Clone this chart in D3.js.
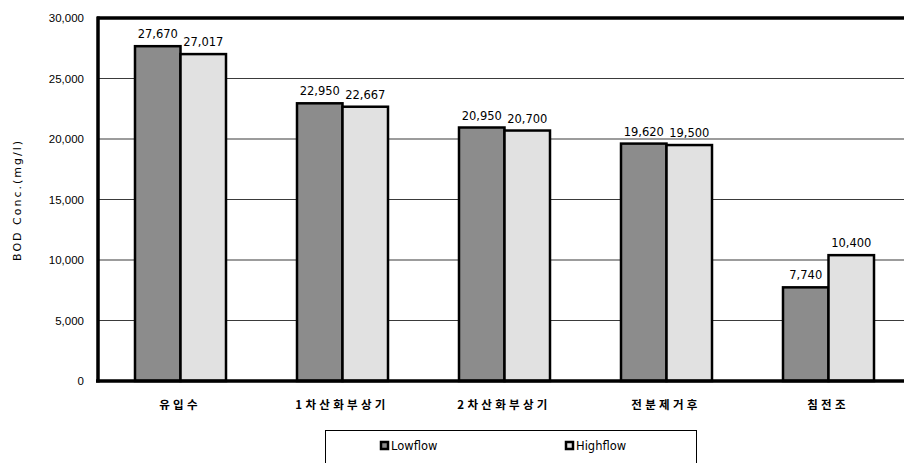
<!DOCTYPE html>
<meta charset="utf-8">
<style>
body { margin: 0; background: #fff; }
svg { display: block; font-family: "DejaVu Sans", sans-serif; }
</style>
<body>
<script src="https://d3js.org/d3.v7.min.js"></script>
<script>

// data
var categories = ["유입수", "1차산화부상기", "2차산화부상기", "전분제거후", "침전조"];
var lowflow  = [27670, 22950, 20950, 19620, 7740];
var highflow = [27017, 22667, 20700, 19500, 10400];
var lowLabels  = ["27,670", "22,950", "20,950", "19,620", "7,740"];
var highLabels = ["27,017", "22,667", "20,700", "19,500", "10,400"];
var yTicks = [0, 5000, 10000, 15000, 20000, 25000, 30000];
var seriesNames = ["Lowflow", "Highflow"];
var seriesColors = ["#8c8c8c", "#e1e1e1"];

var width = 904, height = 463;

var svg = d3.select("body").append("svg")
    .attr("width", width)
    .attr("height", height);

// scales
var x = d3.scaleBand().domain(categories).range([99, 909]);
var x1 = d3.scaleBand().domain(seriesNames).range([36, x.bandwidth() - 35]);
var y = d3.scaleLinear().domain([0, 30000]).range([381, 18]);

// gridlines
svg.append("g").selectAll("line")
    .data(yTicks.filter(function(d) { return d > 0 && d < 30000; }))
  .enter().append("line")
    .attr("x1", 99).attr("x2", width)
    .attr("y1", function(d) { return y(d); })
    .attr("y2", function(d) { return y(d); })
    .attr("stroke", "#3a3a3a")
    .attr("stroke-width", 1.2);

// top border
svg.append("line")
    .attr("x1", 97).attr("x2", width)
    .attr("y1", y(30000)).attr("y2", y(30000))
    .attr("stroke", "#000").attr("stroke-width", 3.5);

// y axis
var yAxis = svg.append("g")
    .attr("transform", "translate(98,0)")
    .call(d3.axisLeft(y).tickValues(yTicks).tickSize(0).tickPadding(14)
      .tickFormat(d3.format(",")));
yAxis.select(".domain").remove();
yAxis.selectAll("text").style("font-size", "11.5px").attr("fill", "#000");

svg.append("line")
    .attr("x1", 98).attr("x2", 98)
    .attr("y1", y(30000) - 1.5).attr("y2", y(0) + 1.5)
    .attr("stroke", "#000").attr("stroke-width", 3.5);

// bars
var groups = [lowflow, highflow];
var labels = [lowLabels, highLabels];
groups.forEach(function(vals, s) {
  svg.append("g").selectAll("rect")
      .data(vals)
    .enter().append("rect")
      .attr("x", function(d, i) { return x(categories[i]) + x1(seriesNames[s]); })
      .attr("y", function(d) { return y(d); })
      .attr("width", x1.bandwidth())
      .attr("height", function(d) { return y(0) - y(d); })
      .attr("fill", seriesColors[s])
      .attr("stroke", "#000")
      .attr("stroke-width", 2.5);

  svg.append("g").selectAll("text")
      .data(vals)
    .enter().append("text")
      .attr("x", function(d, i) { return x(categories[i]) + x1(seriesNames[s]) + x1.bandwidth() / 2; })
      .attr("y", function(d) { return y(d) - 8; })
      .attr("text-anchor", "middle")
      .style("font-size", "11.5px")
      .text(function(d, i) { return labels[s][i]; });
});

// x axis line
svg.append("line")
    .attr("x1", 96).attr("x2", width)
    .attr("y1", y(0)).attr("y2", y(0))
    .attr("stroke", "#000").attr("stroke-width", 3.5);

// category labels
svg.append("g").selectAll("text")
    .data(categories)
  .enter().append("text")
    .attr("x", function(d) { return x(d) + x.bandwidth() / 2; })
    .attr("y", 409)
    .attr("text-anchor", "middle")
    .style("font-family", "'Noto Sans CJK KR', sans-serif")
    .style("font-size", "11.5px")
    .style("font-weight", "bold")
    .style("letter-spacing", "3.3px")
    .text(function(d) { return d; });

// y axis title
svg.append("text")
    .attr("transform", "translate(21,200) rotate(-90)")
    .attr("text-anchor", "middle")
    .style("font-size", "11px")
    .style("letter-spacing", "2px")
    .text("BOD Conc.(mg/l)");

// legend
var legend = svg.append("g");
legend.append("rect")
    .attr("x", 325.5).attr("y", 430.5)
    .attr("width", 371).attr("height", 40)
    .attr("fill", "#fff")
    .attr("stroke", "#000").attr("stroke-width", 1);

var legendX = [381, 566];
seriesNames.forEach(function(name, s) {
  legend.append("rect")
      .attr("x", legendX[s]).attr("y", 442)
      .attr("width", 7).attr("height", 7)
      .attr("fill", seriesColors[s])
      .attr("stroke", "#000").attr("stroke-width", 2.5);
  legend.append("text")
      .attr("x", legendX[s] + 10).attr("y", 450)
      .style("font-size", "11.5px")
      .text(name);
});

</script>
</body>
